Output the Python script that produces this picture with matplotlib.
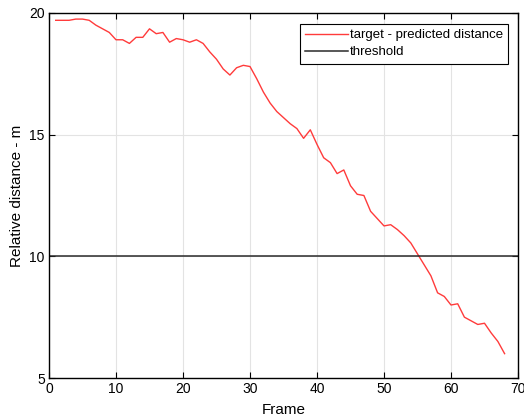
import matplotlib
matplotlib.use("Agg")
import matplotlib.pyplot as plt

frames = list(range(1, 69))
distance = [19.7, 19.7, 19.7, 19.75, 19.75, 19.7, 19.5, 19.35, 19.2, 18.9,
            18.9, 18.75, 19.0, 19.0, 19.35, 19.15, 19.2, 18.8, 18.95, 18.9,
            18.8, 18.9, 18.75, 18.4, 18.1, 17.7, 17.45, 17.75, 17.85, 17.8,
            17.3, 16.75, 16.3, 15.95, 15.7, 15.45, 15.25, 14.85, 15.2, 14.6,
            14.05, 13.85, 13.4, 13.55, 12.9, 12.55, 12.5, 11.85, 11.55, 11.25,
            11.3, 11.1, 10.85, 10.55, 10.1, 9.65, 9.2, 8.5, 8.35, 8.0,
            8.05, 7.5, 7.35, 7.2, 7.25, 6.85, 6.5, 6.0]
threshold = 10
xticks = [0, 10, 20, 30, 40, 50, 60, 70]
yticks = [5, 10, 15, 20]

plt.rcParams['font.family'] = ['Liberation Sans', 'DejaVu Sans']

fig = plt.figure(figsize=(5.24, 4.2), dpi=100)
ax = fig.add_axes([49/524, 42/420, 469/524, 365/420])

ax.plot(frames, distance, color='#ff3b3b', lw=1.0, label='target - predicted distance')
ax.axhline(threshold, color='#2a2a2a', lw=1.1, label='threshold')

ax.set_xlim(0, 70)
ax.set_ylim(5, 20)
ax.set_xticks(xticks)
ax.set_yticks(yticks)
ax.grid(True, color='#e3e3e3', lw=0.8)
ax.set_axisbelow(True)
ax.tick_params(direction='in', top=True, right=True, length=4, width=0.8,
               labelsize=10, colors='black', pad=3)
for s in ax.spines.values():
    s.set_linewidth(1.0)
    s.set_color('black')

ax.set_xlabel('Frame', fontsize=11, labelpad=5)
ax.set_ylabel('Relative distance - m', fontsize=11, labelpad=4)

leg = ax.legend(loc='upper right', bbox_to_anchor=(0.979, 0.970), borderaxespad=0,
                fontsize=9.5, fancybox=False, framealpha=1, edgecolor='black',
                handlelength=3.3, handletextpad=0.1, borderpad=0.4, labelspacing=0.35)
leg.get_frame().set_linewidth(0.8)

fig.savefig('out.png', dpi=100)
